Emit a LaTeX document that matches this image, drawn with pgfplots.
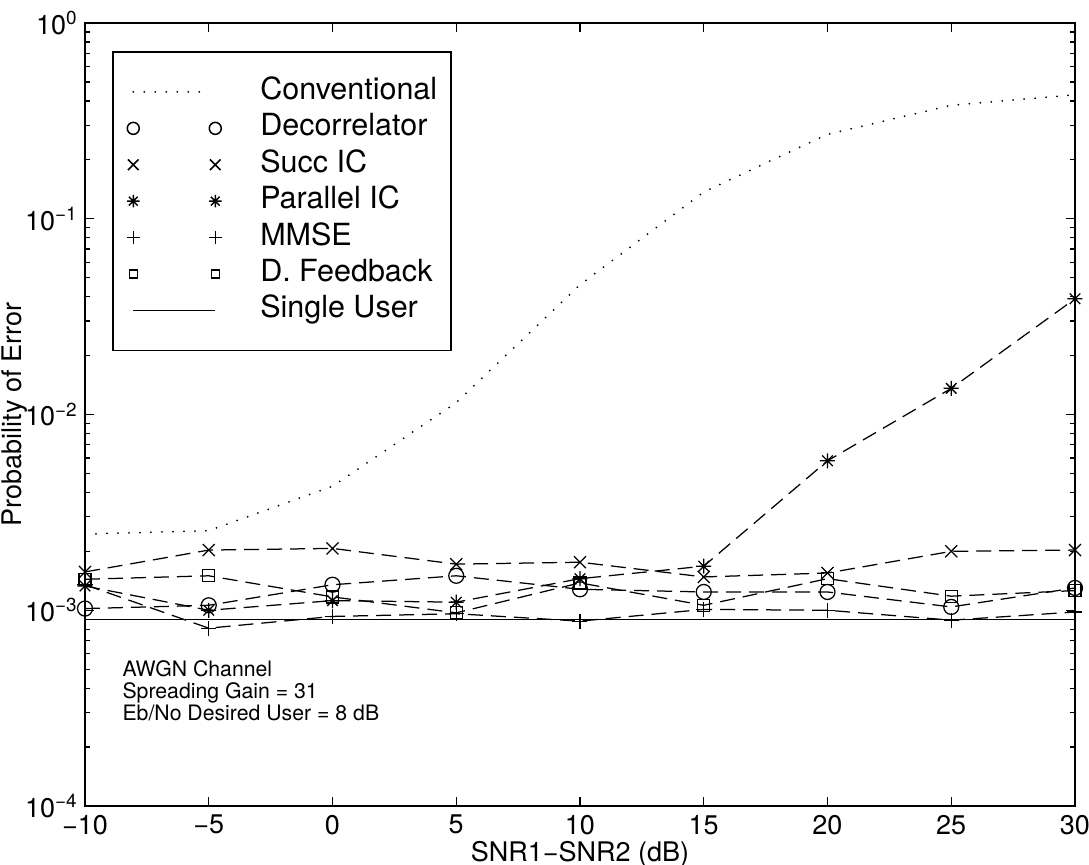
\documentclass[border=0pt]{standalone}
\usepackage{fontspec}
\setmainfont{TeX Gyre Heros}
\usepackage{pgfplots}
\usepackage{pgfplotstable}
\pgfplotsset{compat=1.18}

% MATLAB-like '*' marker (eight arms)
\pgfdeclareplotmark{mstar}{%
  \pgfpathmoveto{\pgfqpoint{0pt}{\pgfplotmarksize}}%
  \pgfpathlineto{\pgfqpoint{0pt}{-\pgfplotmarksize}}%
  \pgfpathmoveto{\pgfqpoint{\pgfplotmarksize}{0pt}}%
  \pgfpathlineto{\pgfqpoint{-\pgfplotmarksize}{0pt}}%
  \pgfpathmoveto{\pgfqpoint{.7071\pgfplotmarksize}{.7071\pgfplotmarksize}}%
  \pgfpathlineto{\pgfqpoint{-.7071\pgfplotmarksize}{-.7071\pgfplotmarksize}}%
  \pgfpathmoveto{\pgfqpoint{-.7071\pgfplotmarksize}{.7071\pgfplotmarksize}}%
  \pgfpathlineto{\pgfqpoint{.7071\pgfplotmarksize}{-.7071\pgfplotmarksize}}%
  \pgfusepathqstroke}

\pgfplotstableread{
x    conv     dec      succ     par      mmse     dfb
-10  2.45e-3  1.02e-3  1.57e-3  1.33e-3  1.35e-3  1.44e-3
-5   2.55e-3  1.06e-3  2.03e-3  1.00e-3  8.1e-4   1.50e-3
0    4.3e-3   1.35e-3  2.07e-3  1.12e-3  9.3e-4   1.17e-3
5    1.15e-2  1.50e-3  1.72e-3  1.10e-3  9.6e-4   9.7e-4
10   4.6e-2   1.28e-3  1.76e-3  1.45e-3  8.8e-4   1.38e-3
15   1.37e-1  1.24e-3  1.48e-3  1.68e-3  1.01e-3  1.06e-3
20   2.7e-1   1.24e-3  1.55e-3  5.8e-3   1.00e-3  1.45e-3
25   3.8e-1   1.04e-3  2.00e-3  1.36e-2  8.9e-4   1.18e-3
30   4.3e-1   1.30e-3  2.03e-3  3.9e-2   9.8e-4   1.26e-3
}\ber

\begin{document}
\begin{tikzpicture}
\path[use as bounding box] (-34bp,-23.6bp) rectangle (401.6bp,322.4bp);
\begin{axis}[
  scale only axis, width=396bp, height=313.2bp,
  at={(0,0)}, anchor=south west,
  ymode=log, xmin=-10, xmax=30, ymin=1e-4, ymax=1,
  xtick={-10,-5,0,5,10,15,20,25,30},
  xticklabels={−10,−5,0,5,10,15,20,25,30},
  ytick={1e-4,1e-3,1e-2,1e-1,1},
  yticklabels={10\textsuperscript{−4},10\textsuperscript{−3},10\textsuperscript{−2},10\textsuperscript{−1},10\textsuperscript{0}},
  minor ytick={2e-4,3e-4,4e-4,5e-4,6e-4,7e-4,8e-4,9e-4,
               2e-3,3e-3,4e-3,5e-3,6e-3,7e-3,8e-3,9e-3,
               2e-2,3e-2,4e-2,5e-2,6e-2,7e-2,8e-2,9e-2,
               2e-1,3e-1,4e-1,5e-1,6e-1,7e-1,8e-1,9e-1},
  tick align=inside, major tick length=3.6bp, minor tick length=2bp,
  tick style={black, line width=0.5bp},
  axis line style={line width=0.7bp},
  tick label style={font=\fontsize{10.8bp}{12bp}\selectfont},
  xticklabel style={inner ysep=3.4bp},
  yticklabel style={inner xsep=2.6bp},
  xlabel={SNR1−SNR2 (dB)}, ylabel={Probability of Error},
  every axis x label/.style={at={(axis description cs:0.5,0)}, anchor=base, yshift=-22bp, font=\fontsize{10.8bp}{12bp}\selectfont},
  every axis y label/.style={at={(axis description cs:-0.0707,0.5)}, rotate=90, anchor=center, font=\fontsize{10.8bp}{12bp}\selectfont},
  legend cell align=left,
  legend style={at={(0.0273,0.964)}, anchor=north west, draw=black, line width=0.6bp,
    inner xsep=5.6bp, inner ysep=10bp, row sep=2.56bp,
    font=\fontsize{12.2bp}{14bp}\selectfont,
    nodes={inner sep=0pt, text height=9bp, text depth=3bp}},
]
\addlegendimage{legend image code/.code={\draw[line width=0.8bp, line cap=round, dash pattern=on 0bp off 4.4bp] (1.2bp,0bp) -- (31bp,0bp); \path[draw=none] (0bp,0bp) -- (52bp,0bp);}}
\addlegendentry{Conventional}
\addlegendimage{legend image code/.code={\draw plot[only marks, mark=o, mark size=2.4bp, line width=0.5bp] coordinates {(1.2bp,0bp) (34bp,0bp)}; \path[draw=none] (0bp,0bp) -- (52bp,0bp);}}
\addlegendentry{Decorrelator}
\addlegendimage{legend image code/.code={\draw plot[only marks, mark=x, mark size=3bp, line width=0.5bp] coordinates {(1.2bp,0bp) (34bp,0bp)}; \path[draw=none] (0bp,0bp) -- (52bp,0bp);}}
\addlegendentry{Succ IC}
\addlegendimage{legend image code/.code={\draw plot[only marks, mark=mstar, mark size=2.5bp, line width=0.55bp] coordinates {(1.2bp,0bp) (34bp,0bp)}; \path[draw=none] (0bp,0bp) -- (52bp,0bp);}}
\addlegendentry{Parallel IC}
\addlegendimage{legend image code/.code={\draw plot[only marks, mark=+, mark size=2.6bp, line width=0.5bp] coordinates {(1.2bp,0bp) (34bp,0bp)}; \path[draw=none] (0bp,0bp) -- (52bp,0bp);}}
\addlegendentry{MMSE}
\addlegendimage{legend image code/.code={\draw plot[only marks, mark=square, mark size=1.6bp, line width=0.5bp] coordinates {(1.2bp,0bp) (34bp,0bp)}; \path[draw=none] (0bp,0bp) -- (52bp,0bp);}}
\addlegendentry{D. Feedback}
\addlegendimage{legend image code/.code={\draw[line width=0.5bp] (1.2bp,0bp) -- (34bp,0bp); \path[draw=none] (0bp,0bp) -- (52bp,0bp);}}
\addlegendentry{Single User}

\addplot[black, line width=0.8bp, line cap=round, dash pattern=on 0bp off 4.4bp, forget plot] table[x=x, y=conv] {\ber};
\addplot[black, line width=0.5bp, dash pattern=on 6bp off 3.2bp, mark=o, mark size=3bp, mark options={solid}, forget plot] table[x=x, y=dec] {\ber};
\addplot[black, line width=0.5bp, dash pattern=on 6bp off 3.2bp, mark=x, mark size=3.4bp, mark options={solid}, forget plot] table[x=x, y=succ] {\ber};
\addplot[black, line width=0.5bp, dash pattern=on 6bp off 3.2bp, mark=mstar, mark size=3bp, mark options={solid}, forget plot] table[x=x, y=par] {\ber};
\addplot[black, line width=0.5bp, dash pattern=on 6bp off 3.2bp, mark=+, mark size=3bp, mark options={solid}, forget plot] table[x=x, y=mmse] {\ber};
\addplot[black, line width=0.5bp, dash pattern=on 6bp off 3.2bp, mark=square, mark size=2.4bp, mark options={solid}, forget plot] table[x=x, y=dfb] {\ber};
\addplot[black, line width=0.5bp, forget plot] coordinates {(-10,9e-4) (30,9e-4)};

\node[anchor=base west, inner sep=0pt, font=\fontsize{8.5bp}{9bp}\selectfont] at (rel axis cs:0.0374,0.1654) {AWGN Channel};
\node[anchor=base west, inner sep=0pt, font=\fontsize{8.5bp}{9bp}\selectfont] at (rel axis cs:0.0374,0.1373) {Spreading Gain = 31};
\node[anchor=base west, inner sep=0pt, font=\fontsize{8.5bp}{9bp}\selectfont] at (rel axis cs:0.0374,0.1092) {Eb/No Desired User = 8 dB};
\end{axis}
\end{tikzpicture}
\end{document}
